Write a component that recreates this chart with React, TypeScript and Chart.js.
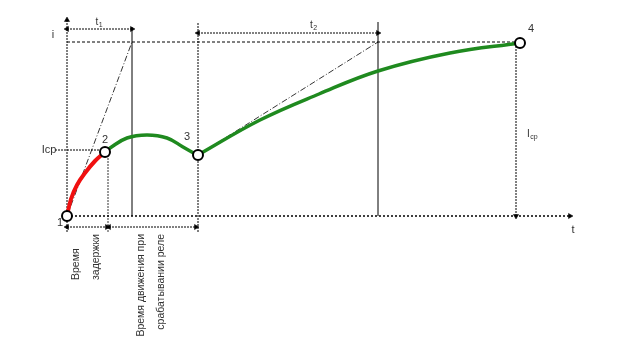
import React, { useEffect, useRef } from "react";
import { Chart, registerables } from "chart.js";
Chart.register(...registerables);

// ---- data (t = time units, i = current units) ----
const T_RED = [0, 4, 10, 18, 28, 38];
const I_RED = [0, 17, 31, 43, 55, 64];
const T_HUMP = [38, 43, 60, 80, 100, 116, 130];
const I_HUMP = [64, 68, 78, 81, 78, 69, 61];
const T_RISE = [131, 193, 252, 311, 383, 453];
const I_RISE = [61, 96, 122, 145, 163, 173];
const KEY_T = [0, 38, 131, 453];
const KEY_I = [0, 64, 61, 173];
const KEY_LABELS = ["1", "2", "3", "4"];

const I_MAX = 174;
const I_CP = 66;
const T1_END = 65;
const T2_START = 131;
const T2_END = 311;
const T_DELAY = 41;
const T_STEADY = 449;
const T_AXIS_END = 503;
const I_AXIS_TOP = 196;
const I_AXIS_BOTTOM = -16;
const I_T1_ARROW = 187;
const I_T2_ARROW = 183;
const I_LOW_ARROW = -11;

const AXIS_LABELS = { i: "i", t: "t", icp: "Iср" };
const DELAY_TEXT = ["Время", "задержки"];
const MOTION_TEXT = ["Время движения при", "срабатывании реле"];

const FONT = "'Liberation Sans', Arial, sans-serif";

export default function App() {
  const ref = useRef<HTMLCanvasElement>(null);
  useEffect(() => {
    const canvas = ref.current!;
    const pts = (ts: number[], is: number[]) => ts.map((t, k) => ({ x: t, y: is[k] }));
    const seg = (a: number[], b: number[], opts: any = {}) => ({
      type: "line",
      data: [{ x: a[0], y: a[1] }, { x: b[0], y: b[1] }],
      borderColor: "#000",
      borderWidth: 1,
      pointRadius: 0,
      fill: false,
      tension: 0,
      order: 3,
      ...opts,
    });
    const arrow = (r: number[], rot: number[]) => ({
      pointStyle: "triangle",
      pointRadius: r,
      pointRotation: rot,
      pointBackgroundColor: "#000",
      pointBorderColor: "#000",
      pointBorderWidth: 0.5,
    });

    const datasets: any[] = [
      // axes
      seg([0, I_AXIS_BOTTOM], [0, I_AXIS_TOP], { borderDash: [2, 1], ...arrow([0, 3], [0, 0]) }),
      seg([0, 0], [T_AXIS_END, 0], { borderDash: [2, 2], borderWidth: 1.5, ...arrow([0, 3], [0, 90]) }),
      // reference lines
      seg([0, I_MAX], [KEY_T[3], I_MAX], { borderDash: [3, 2] }),
      seg([-12, I_CP], [KEY_T[1], I_CP], { borderDash: [2, 1] }),
      seg([T_DELAY, KEY_I[1]], [T_DELAY, I_AXIS_BOTTOM], { borderDash: [2, 1], borderWidth: 0.8 }),
      seg([T1_END, 0], [T1_END, 189], { borderWidth: 1 }),
      seg([T2_START, I_AXIS_BOTTOM], [T2_START, 193], { borderDash: [2, 1] }),
      seg([T2_END, 0], [T2_END, 194], { borderWidth: 1 }),
      seg([T_STEADY, 0], [T_STEADY, I_MAX], { borderDash: [2, 1], ...arrow([3, 0], [180, 0]) }),
      // dimension arrows
      seg([0, I_T1_ARROW], [T1_END, I_T1_ARROW], { borderDash: [2, 1], ...arrow([3, 3], [270, 90]) }),
      seg([T2_START, I_T2_ARROW], [T2_END, I_T2_ARROW], { borderDash: [2, 1], ...arrow([3, 3], [270, 90]) }),
      seg([0, I_LOW_ARROW], [T_DELAY - 1, I_LOW_ARROW], { borderDash: [2, 1], ...arrow([3, 3], [270, 90]) }),
      seg([T_DELAY + 1, I_LOW_ARROW], [T2_START - 2, I_LOW_ARROW], { borderDash: [2, 1], ...arrow([3, 3], [270, 90]) }),
      // tangents
      seg([0, 0], [T1_END, I_MAX], { borderDash: [6, 2, 1, 2], borderWidth: 0.8 }),
      seg([KEY_T[2], KEY_I[2]], [T2_END, I_MAX], { borderDash: [6, 2, 1, 2], borderWidth: 0.8 }),
      // curves
      {
        type: "line",
        data: pts(T_RED, I_RED),
        borderColor: "#f01010",
        borderWidth: 4,
        pointRadius: 0,
        tension: 0.4,
        order: 1,
      },
      {
        type: "line",
        data: pts(T_HUMP, I_HUMP),
        borderColor: "#1f8a1f",
        borderWidth: 3.5,
        pointRadius: 0,
        tension: 0.4,
        order: 1,
      },
      {
        type: "line",
        data: pts(T_RISE, I_RISE),
        borderColor: "#1f8a1f",
        borderWidth: 3.5,
        pointRadius: 0,
        tension: 0.4,
        order: 1,
      },
      // key points
      {
        type: "line",
        data: pts(KEY_T, KEY_I),
        showLine: false,
        pointRadius: 5,
        pointBackgroundColor: "#fff",
        pointBorderColor: "#000",
        pointBorderWidth: 2,
        order: 0,
      },
    ];

    const textPlugin = {
      id: "texts",
      afterDatasetsDraw(chart: any) {
        const c = chart.ctx as CanvasRenderingContext2D;
        const xs = chart.scales.x;
        const ys = chart.scales.y;
        const X = (t: number) => xs.getPixelForValue(t);
        const Y = (i: number) => ys.getPixelForValue(i);
        c.save();
        c.fillStyle = "#333";
        c.textBaseline = "middle";
        c.textAlign = "center";
        const txt = (s: string, x: number, y: number, size = 11) => {
          c.font = `${size}px ${FONT}`;
          c.fillText(s, x, y);
        };
        // point labels
        txt(KEY_LABELS[0], X(KEY_T[0]) - 7, Y(KEY_I[0]) + 7);
        txt(KEY_LABELS[1], X(KEY_T[1]), Y(KEY_I[1]) - 12);
        txt(KEY_LABELS[2], X(KEY_T[2]) - 11, Y(KEY_I[2]) - 18);
        txt(KEY_LABELS[3], X(KEY_T[3]) + 11, Y(KEY_I[3]) - 14);
        // axis labels
        txt(AXIS_LABELS.i, X(0) - 14, Y(I_AXIS_TOP) + 15, 11);
        txt(AXIS_LABELS.t, X(T_AXIS_END) + 3, Y(0) + 14, 11);
        txt(AXIS_LABELS.icp, X(0) - 18, Y(I_CP), 11);
        // subscripted labels
        const sub = (main: string, s: string, x: number, y: number) => {
          c.textAlign = "left";
          c.font = `10px ${FONT}`;
          c.fillText(main, x, y);
          const w = c.measureText(main).width;
          c.font = `7px ${FONT}`;
          c.fillText(s, x + w + 0.5, y + 3);
          c.textAlign = "center";
        };
        sub("t", "1", X(T1_END / 2) - 4, Y(I_T1_ARROW) - 7);
        sub("t", "2", X((T2_START + T2_END) / 2) + 22, Y(I_T2_ARROW) - 8);
        sub("I", "ср", X(T_STEADY) + 11, Y(I_MAX / 2) + 5);
        // rotated texts
        const rot = (lines: string[], xs0: number[], yAnchor: number, align: CanvasTextAlign) => {
          lines.forEach((s, k) => {
            c.save();
            c.translate(xs0[k], yAnchor);
            c.rotate(-Math.PI / 2);
            c.textAlign = align;
            c.font = `10.5px ${FONT}`;
            c.fillText(s, 0, 0);
            c.restore();
          });
        };
        rot(DELAY_TEXT, [X(9), X(29)], Y(I_LOW_ARROW) + 53, "left");
        rot(MOTION_TEXT, [X(74), X(94)], Y(I_LOW_ARROW) + 7, "right");
        c.restore();
      },
    };

    const chart = new Chart(canvas, {
      type: "line",
      data: { datasets },
      options: {
        animation: false,
        responsive: false,
        maintainAspectRatio: false,
        layout: { padding: 0, autoPadding: false },
        plugins: { legend: { display: false }, tooltip: { enabled: false } },
        scales: {
          x: { type: "linear", min: -67, max: 564, display: false },
          y: { type: "linear", min: -144, max: 216, display: false },
        },
        elements: { line: { fill: false } },
      },
      plugins: [textPlugin],
    } as any);
    return () => chart.destroy();
  }, []);
  return (
    <div style={{ position: "fixed", left: 0, top: 0, width: 631, height: 360, background: "#fff" }}>
      <canvas ref={ref} width={631} height={360} style={{ width: 631, height: 360, display: "block" }} />
    </div>
  );
}
